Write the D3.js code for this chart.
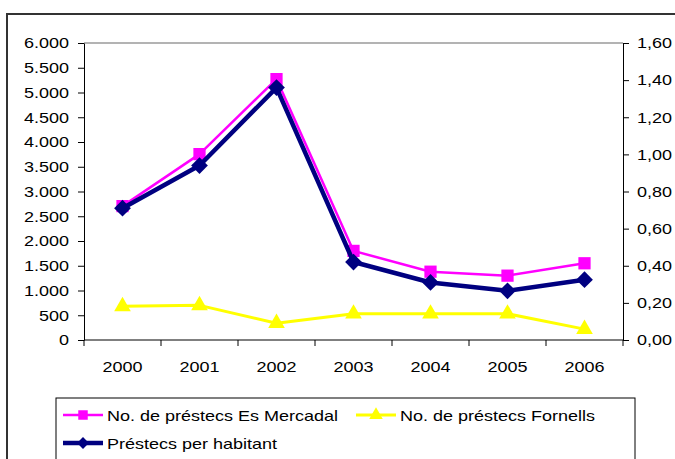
<!DOCTYPE html>
<html>
<head>
<meta charset="utf-8">
<script src="https://cdn.jsdelivr.net/npm/d3@7"></script>
<style>
  html, body { margin: 0; padding: 0; background: #fff; }
  svg { display: block; font-family: "Liberation Sans", Arial, sans-serif; }
</style>
</head>
<body>
<svg id="chart" width="675" height="459"></svg>
<script>
// Loans per year (left axis) and loans per inhabitant (right axis)
const years = ["2000", "2001", "2002", "2003", "2004", "2005", "2006"];
const mercadal = [2705, 3755, 5270, 1800, 1380, 1300, 1550];
const fornells = [680, 700, 340, 530, 530, 530, 220];
const perHabitant = [0.71, 0.94, 1.36, 0.42, 0.31, 0.265, 0.325];
const leftTicks = [0, 500, 1000, 1500, 2000, 2500, 3000, 3500, 4000, 4500, 5000, 5500, 6000];
const rightTicks = [0, 0.2, 0.4, 0.6, 0.8, 1.0, 1.2, 1.4, 1.6];
const seriesNames = ["No. de préstecs Es Mercadal", "No. de préstecs Fornells", "Préstecs per habitant"];

const svg = d3.select("#chart");
const plot = { left: 84, right: 623, top: 43, bottom: 340 };
const FONT = 15;
const WIDEN = 1.2; // text is drawn slightly wide

const x = d3.scaleBand().domain(years).range([plot.left, plot.right]);
const yL = d3.scaleLinear().domain([0, 6000]).range([plot.bottom, plot.top]);
const yR = d3.scaleLinear().domain([0, 1.6]).range([plot.bottom, plot.top]);
const cx = d => x(d) + x.bandwidth() / 2;

const fmtL = v => d3.format(",")(v).replace(/,/g, ".");
const fmtR = v => d3.format(".2f")(v).replace(".", ",");

// Chart frame
svg.append("rect").attr("x", 7).attr("y", 14).attr("width", 700).attr("height", 480)
  .attr("fill", "#fff").attr("stroke", "#333").attr("stroke-width", 2);

// Top grid line
svg.append("line").attr("x1", plot.left).attr("x2", plot.right)
  .attr("y1", yL(6000)).attr("y2", yL(6000))
  .attr("stroke", "#9a9a9a").attr("stroke-width", 1.5);

// Axes
const axisStyle = g => {
  g.select(".domain").attr("stroke", "#000").attr("stroke-width", 1);
  g.selectAll(".tick line").attr("stroke", "#000");
  g.selectAll(".tick text").attr("fill", "#000").attr("font-size", FONT)
    .attr("font-family", "Liberation Sans, Arial, sans-serif");
};

svg.append("g").attr("transform", `translate(${plot.left},0)`)
  .call(d3.axisLeft(yL).tickValues(leftTicks).tickFormat(fmtL).tickSize(6).tickSizeOuter(0).tickPadding(9))
  .call(axisStyle);

svg.append("g").attr("transform", `translate(${plot.right},0)`)
  .call(d3.axisRight(yR).tickValues(rightTicks).tickFormat(fmtR).tickSize(6).tickSizeOuter(0).tickPadding(8))
  .call(axisStyle);

// Category axis with ticks between categories
const xAxis = svg.append("g").attr("transform", `translate(0,${plot.bottom})`);
xAxis.append("line").attr("x1", plot.left).attr("x2", plot.right)
  .attr("y1", 0).attr("y2", 0).attr("stroke", "#000");
const bounds = years.map(d => x(d)).concat([plot.right]);
xAxis.selectAll("line.tk").data(bounds).join("line").attr("class", "tk")
  .attr("x1", d => d).attr("x2", d => d).attr("y1", 0).attr("y2", 6).attr("stroke", "#000");
xAxis.selectAll("text").data(years).join("text")
  .attr("x", d => cx(d)).attr("y", 32).attr("text-anchor", "middle")
  .attr("font-size", FONT).attr("fill", "#000").text(d => d);

// Marker shapes
const square = d3.symbol().type(d3.symbolSquare).size(150);
const triangle = d3.symbol().type(d3.symbolTriangle).size(120);
const diamond = d3.symbol().type(d3.symbolSquare).size(140);

function drawSeries(values, yScale, color, width, marker, rotate) {
  const line = d3.line().x((d, i) => cx(years[i])).y(d => yScale(d));
  svg.append("path").datum(values).attr("d", line)
    .attr("fill", "none").attr("stroke", color).attr("stroke-width", width)
    .attr("stroke-linejoin", "round");
  svg.append("g").selectAll("path").data(values).join("path")
    .attr("d", marker)
    .attr("transform", (d, i) => `translate(${cx(years[i])},${yScale(d)})` + (rotate ? " rotate(45)" : ""))
    .attr("fill", color);
}

drawSeries(fornells, yL, "#ffff00", 3, triangle, false);
drawSeries(mercadal, yL, "#ff00ff", 2.5, square, false);
drawSeries(perHabitant, yR, "#000080", 4.5, diamond, true);

// Legend
const legend = svg.append("g");
legend.append("rect").attr("x", 56).attr("y", 398).attr("width", 579).attr("height", 80)
  .attr("fill", "#fff").attr("stroke", "#000").attr("stroke-width", 1);

const legendItems = [
  { name: seriesNames[0], color: "#ff00ff", width: 2.5, marker: d3.symbol().type(d3.symbolSquare).size(90), rot: false, x: 63, y: 415 },
  { name: seriesNames[1], color: "#ffff00", width: 3, marker: d3.symbol().type(d3.symbolTriangle).size(80), rot: false, x: 356, y: 415 },
  { name: seriesNames[2], color: "#000080", width: 4.5, marker: d3.symbol().type(d3.symbolSquare).size(70), rot: true, x: 63, y: 443 }
];
legendItems.forEach(it => {
  const g = legend.append("g");
  g.append("line").attr("x1", it.x).attr("x2", it.x + 40).attr("y1", it.y).attr("y2", it.y)
    .attr("stroke", it.color).attr("stroke-width", it.width);
  g.append("path").attr("d", it.marker)
    .attr("transform", `translate(${it.x + 20},${it.y})` + (it.rot ? " rotate(45)" : ""))
    .attr("fill", it.color);
  g.append("text").attr("x", it.x + 44).attr("y", it.y + 6)
    .attr("font-size", FONT).attr("fill", "#000").text(it.name);
});

// Widen every label a little
svg.selectAll("text").each(function () {
  const len = this.getComputedTextLength();
  d3.select(this).attr("textLength", len * WIDEN).attr("lengthAdjust", "spacingAndGlyphs");
});
</script>
</body>
</html>
